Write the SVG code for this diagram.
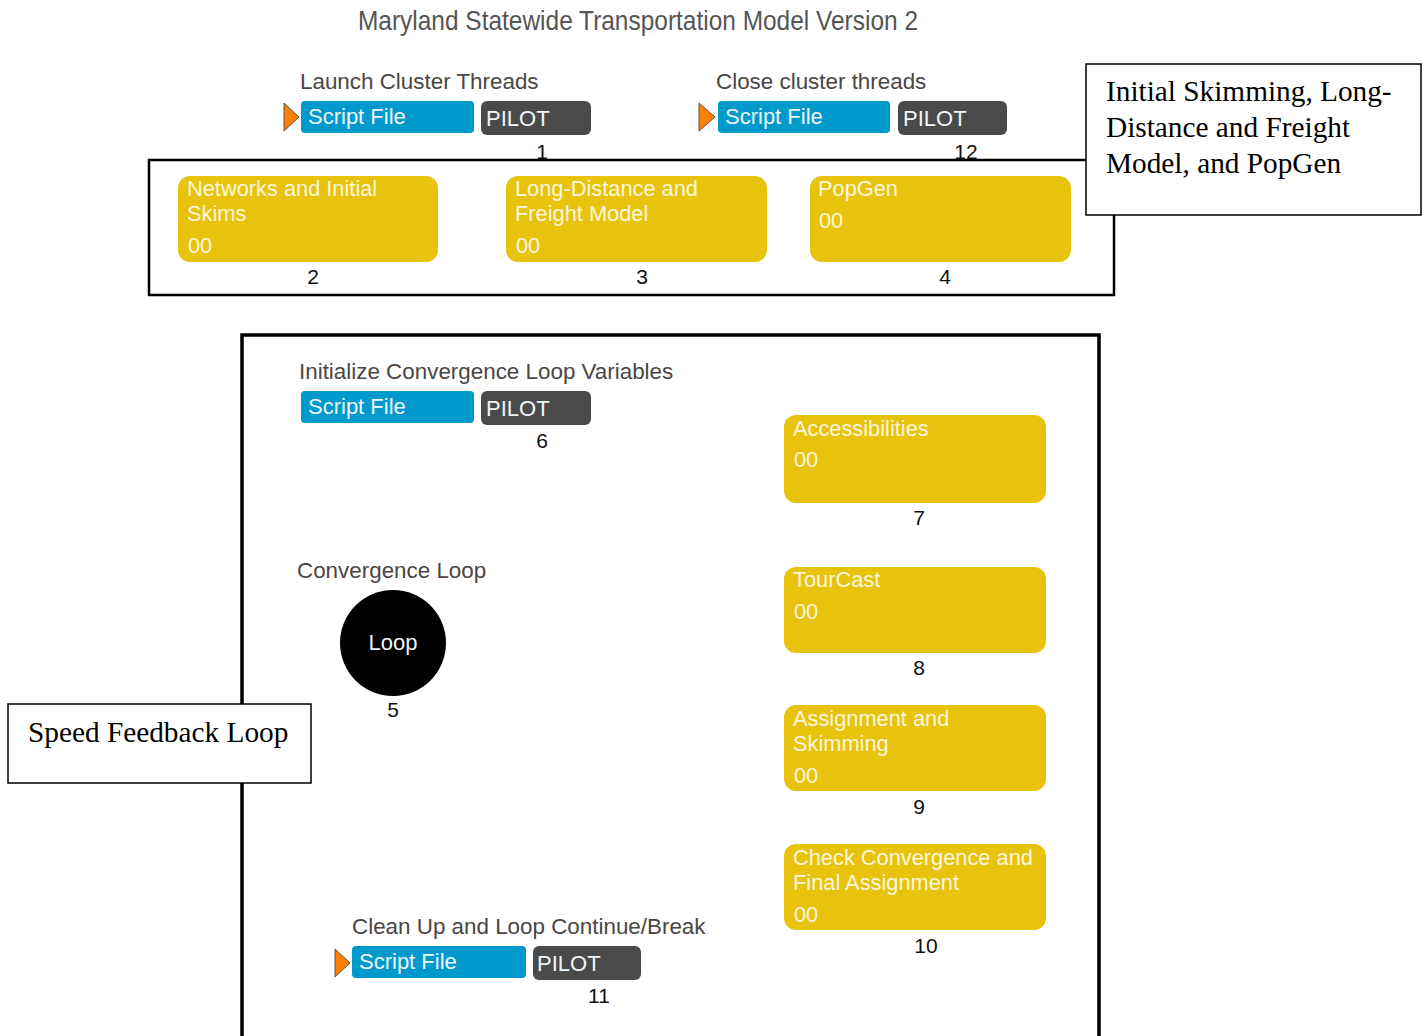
<svg xmlns="http://www.w3.org/2000/svg" width="1426" height="1036" viewBox="0 0 1426 1036">
<style>
  .lbl{font-family:"Liberation Sans",Arial,sans-serif;font-size:22.4px;fill:#4a4644}
  .btxt{font-family:"Liberation Sans",Arial,sans-serif;font-size:22px;fill:#eef6fa}
  .ytxt{font-family:"Liberation Sans",Arial,sans-serif;font-size:21.8px;fill:#fbf6dc}
  .num{font-family:"Liberation Sans",Arial,sans-serif;font-size:21px;fill:#111;text-anchor:middle}
  .note{font-family:"Liberation Serif","Times New Roman",serif;font-size:29.3px;fill:#000}
  .script{fill:#0099cc}
  .pilot{fill:#4a4a4a}
  .yel{fill:#e8c30e}
  .tri{fill:#ff8000;stroke:#555;stroke-width:1}
  .frame{fill:none;stroke:#000}
  .notebox{fill:#fff;stroke:#000;stroke-width:1.5}
</style>
<rect width="1426" height="1036" fill="#fff"/>
<text x="638" y="30" text-anchor="middle" font-family="'Liberation Sans Narrow','Liberation Sans',Arial,sans-serif" font-size="28" fill="#555" textLength="560" lengthAdjust="spacingAndGlyphs">Maryland Statewide Transportation Model Version 2</text>

<g id="group1">
  <rect class="frame" x="149" y="160" width="965" height="135" stroke-width="2.5"/>
</g>
<g id="group2">
  <rect class="frame" x="242" y="335" width="857" height="706" stroke-width="3.5"/>
</g>

<g id="connectors"></g>

<g id="node1">
  <text class="lbl" x="300" y="89">Launch Cluster Threads</text>
  <polygon class="tri" points="284,103 299,117 284,131"/>
  <rect class="script" x="301" y="101" width="173" height="32" rx="4"/>
  <text class="btxt" x="308" y="124">Script File</text>
  <rect class="pilot" x="481" y="101" width="110" height="34" rx="6"/>
  <text class="btxt" x="486" y="126">PILOT</text>
  <text class="num" x="542" y="159">1</text>
</g>

<g id="node12">
  <text class="lbl" x="716" y="89">Close cluster threads</text>
  <polygon class="tri" points="699,103 715,117 699,131"/>
  <rect class="script" x="718" y="101" width="172" height="32" rx="4"/>
  <text class="btxt" x="725" y="124">Script File</text>
  <rect class="pilot" x="898" y="101" width="109" height="34" rx="6"/>
  <text class="btxt" x="903" y="126">PILOT</text>
  <text class="num" x="966" y="159">12</text>
</g>

<g id="node2">
  <rect class="yel" x="178" y="176" width="260" height="86" rx="12"/>
  <text class="ytxt" x="187" y="196">Networks and Initial</text>
  <text class="ytxt" x="187" y="221">Skims</text>
  <text class="ytxt" x="188" y="253">00</text>
  <text class="num" x="313" y="284">2</text>
</g>

<g id="node3">
  <rect class="yel" x="506" y="176" width="261" height="86" rx="12"/>
  <text class="ytxt" x="515" y="196">Long-Distance and</text>
  <text class="ytxt" x="515" y="221">Freight Model</text>
  <text class="ytxt" x="516" y="253">00</text>
  <text class="num" x="642" y="284">3</text>
</g>

<g id="node4">
  <rect class="yel" x="810" y="176" width="261" height="86" rx="12"/>
  <text class="ytxt" x="818" y="196">PopGen</text>
  <text class="ytxt" x="819" y="228">00</text>
  <text class="num" x="945" y="284">4</text>
</g>

<g id="note1">
  <rect class="notebox" x="1086" y="64" width="335" height="151"/>
  <text class="note" x="1106" y="101">Initial Skimming, Long-</text>
  <text class="note" x="1106" y="137">Distance and Freight</text>
  <text class="note" x="1106" y="173">Model, and PopGen</text>
</g>

<g id="node6">
  <text class="lbl" x="299" y="379">Initialize Convergence Loop Variables</text>
  <rect class="script" x="301" y="391" width="173" height="32" rx="4"/>
  <text class="btxt" x="308" y="414">Script File</text>
  <rect class="pilot" x="481" y="391" width="110" height="34" rx="6"/>
  <text class="btxt" x="486" y="416">PILOT</text>
  <text class="num" x="542" y="448">6</text>
</g>

<g id="node7">
  <rect class="yel" x="784" y="415" width="262" height="88" rx="12"/>
  <text class="ytxt" x="793" y="436">Accessibilities</text>
  <text class="ytxt" x="794" y="467">00</text>
  <text class="num" x="919" y="525">7</text>
</g>

<g id="node5">
  <text class="lbl" x="297" y="578">Convergence Loop</text>
  <circle cx="393" cy="643" r="53" fill="#000"/>
  <text x="393" y="650" text-anchor="middle" font-family="'Liberation Sans',Arial,sans-serif" font-size="22" fill="#eef2f8">Loop</text>
  <text class="num" x="393" y="717">5</text>
</g>

<g id="node8">
  <rect class="yel" x="784" y="567" width="262" height="86" rx="12"/>
  <text class="ytxt" x="793" y="587">TourCast</text>
  <text class="ytxt" x="794" y="619">00</text>
  <text class="num" x="919" y="675">8</text>
</g>

<g id="note2">
  <rect class="notebox" x="8" y="704" width="303" height="79"/>
  <text class="note" x="28" y="742">Speed Feedback Loop</text>
</g>

<g id="node9">
  <rect class="yel" x="784" y="705" width="262" height="86" rx="12"/>
  <text class="ytxt" x="793" y="726">Assignment and</text>
  <text class="ytxt" x="793" y="751">Skimming</text>
  <text class="ytxt" x="794" y="783">00</text>
  <text class="num" x="919" y="814">9</text>
</g>

<g id="node10">
  <rect class="yel" x="784" y="844" width="262" height="86" rx="12"/>
  <text class="ytxt" x="793" y="865">Check Convergence and</text>
  <text class="ytxt" x="793" y="890">Final Assignment</text>
  <text class="ytxt" x="794" y="922">00</text>
  <text class="num" x="926" y="953">10</text>
</g>

<g id="node11">
  <text class="lbl" x="352" y="934">Clean Up and Loop Continue/Break</text>
  <polygon class="tri" points="335,949 350,963 335,977"/>
  <rect class="script" x="352" y="946" width="174" height="32" rx="4"/>
  <text class="btxt" x="359" y="969">Script File</text>
  <rect class="pilot" x="533" y="946" width="108" height="34" rx="6"/>
  <text class="btxt" x="537" y="971">PILOT</text>
  <text class="num" x="599" y="1003">11</text>
</g>
</svg>
